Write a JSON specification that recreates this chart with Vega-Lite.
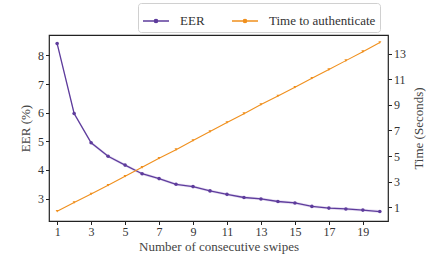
{
  "$schema": "https://vega.github.io/schema/vega-lite/v6.json",
  "width": 339,
  "height": 186,
  "autosize": "none",
  "padding": {"left": 49, "top": 35, "right": 44, "bottom": 35},
  "config": {
    "font": "Liberation Serif",
    "view": {"stroke": "#222", "strokeWidth": 1.2},
    "axis": {
      "grid": false, "domain": false,
      "labelFont": "Liberation Serif", "labelFontSize": 12, "labelColor": "#333",
      "tickColor": "#222", "tickSize": 3.5, "tickWidth": 1, "labelPadding": 2,
      "titleFont": "Liberation Serif", "titleFontSize": 13, "titleFontWeight": "normal", "titleColor": "#444"
    },
    "legend": {
      "labelFont": "Liberation Serif", "labelFontSize": 13, "labelColor": "#333"
    }
  },
  "data": {"values": [
    {"n": 1, "eer": 8.41, "lo": 8.36, "hi": 8.46, "t": 0.69},
    {"n": 2, "eer": 5.97, "lo": 5.92, "hi": 6.02, "t": 1.37},
    {"n": 3, "eer": 4.95, "lo": 4.90, "hi": 5.00, "t": 2.04},
    {"n": 4, "eer": 4.48, "lo": 4.43, "hi": 4.53, "t": 2.72},
    {"n": 5, "eer": 4.17, "lo": 4.12, "hi": 4.22, "t": 3.42},
    {"n": 6, "eer": 3.87, "lo": 3.82, "hi": 3.92, "t": 4.12},
    {"n": 7, "eer": 3.70, "lo": 3.65, "hi": 3.75, "t": 4.83},
    {"n": 8, "eer": 3.50, "lo": 3.45, "hi": 3.55, "t": 5.50},
    {"n": 9, "eer": 3.42, "lo": 3.37, "hi": 3.47, "t": 6.21},
    {"n": 10, "eer": 3.27, "lo": 3.22, "hi": 3.32, "t": 6.91},
    {"n": 11, "eer": 3.15, "lo": 3.10, "hi": 3.20, "t": 7.62},
    {"n": 12, "eer": 3.04, "lo": 2.99, "hi": 3.09, "t": 8.31},
    {"n": 13, "eer": 2.99, "lo": 2.94, "hi": 3.04, "t": 9.02},
    {"n": 14, "eer": 2.90, "lo": 2.85, "hi": 2.95, "t": 9.69},
    {"n": 15, "eer": 2.85, "lo": 2.80, "hi": 2.90, "t": 10.37},
    {"n": 16, "eer": 2.73, "lo": 2.68, "hi": 2.78, "t": 11.07},
    {"n": 17, "eer": 2.67, "lo": 2.62, "hi": 2.72, "t": 11.75},
    {"n": 18, "eer": 2.64, "lo": 2.59, "hi": 2.69, "t": 12.45},
    {"n": 19, "eer": 2.60, "lo": 2.55, "hi": 2.65, "t": 13.15},
    {"n": 20, "eer": 2.55, "lo": 2.50, "hi": 2.60, "t": 13.86}
  ]},
  "encoding": {
    "x": {"field": "n", "type": "quantitative",
      "scale": {"domain": [0.52, 20.48], "nice": false, "zero": false},
      "axis": {"values": [1, 3, 5, 7, 9, 11, 13, 15, 17, 19], "title": "Number of consecutive swipes", "titlePadding": 3}}
  },
  "layer": [
    {
      "encoding": {
        "y": {"field": "eer", "type": "quantitative", "scale": {"domain": [2.22, 8.71], "nice": false, "zero": false},
          "axis": {"values": [3, 4, 5, 6, 7, 8], "title": "EER (%)", "titlePadding": 5}}
      },
      "layer": [
        {
          "mark": {"type": "area", "color": "#8c6bc4", "opacity": 0.22},
          "encoding": {
            "y": {"field": "lo", "type": "quantitative", "title": "EER (%)"},
            "y2": {"field": "hi"}
          }
        },
        {
          "mark": {"type": "line", "strokeWidth": 1.3, "point": {"filled": true, "size": 13, "shape": "circle"}},
          "encoding": {
            "color": {"datum": "EER", "type": "nominal",
              "scale": {"domain": ["EER", "Time to authenticate"], "range": ["#5e3c9c", "#f0901e"]},
              "legend": {
                "title": null, "orient": "none", "legendX": 89, "legendY": -32, "direction": "horizontal",
                "strokeColor": "#d0d0d0", "fillColor": "white", "padding": 4, "cornerRadius": 3,
                "symbolType": "M-1,0H1M-0.13,0a0.13,0.13 0 1,0 0.26,0a0.13,0.13 0 1,0 -0.26,0",
                "symbolSize": 676, "symbolStrokeWidth": 1.3, "labelOffset": 10, "columnPadding": 24
              }}
          }
        }
      ]
    },
    {
      "mark": {"type": "line", "strokeWidth": 1.1, "point": {"filled": true, "size": 9, "shape": "triangle-down"}},
      "encoding": {
        "y": {"field": "t", "type": "quantitative",
          "scale": {"domain": [-0.07, 14.45], "nice": false, "zero": false},
          "axis": {"orient": "right", "values": [1, 3, 5, 7, 9, 11, 13], "title": "Time (Seconds)", "titleAngle": 270, "titlePadding": 20}},
        "color": {"datum": "Time to authenticate", "type": "nominal"}
      }
    }
  ],
  "resolve": {"scale": {"y": "independent"}}
}
